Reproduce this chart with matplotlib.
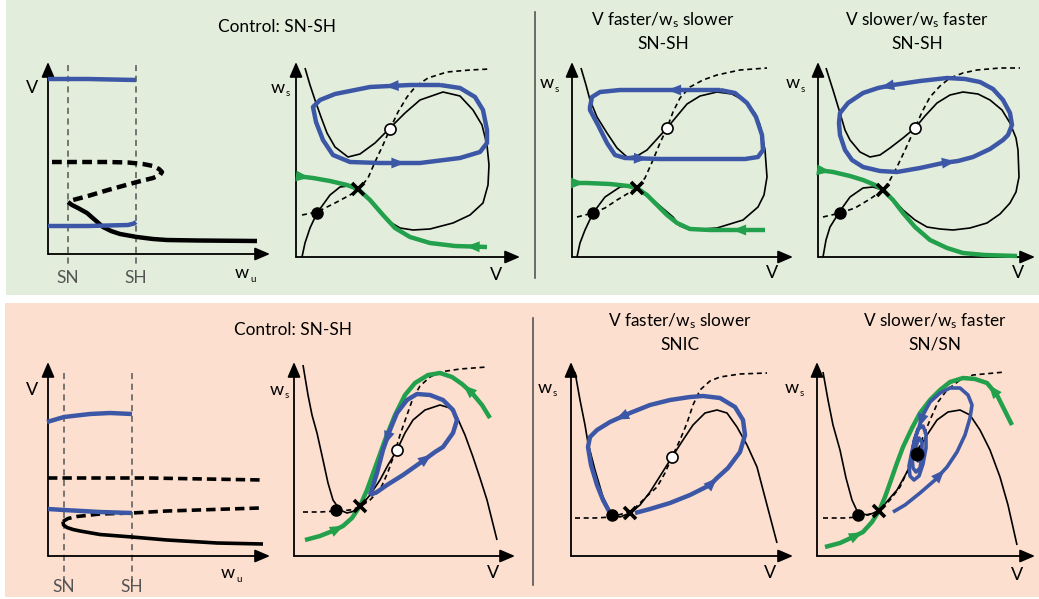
import matplotlib
matplotlib.use("Agg")
import matplotlib.pyplot as plt
from matplotlib.patches import Rectangle
from matplotlib.lines import Line2D

plt.rcParams['font.family'] = ['Lato', 'DejaVu Sans']
plt.rcParams['mathtext.fontset'] = 'custom'
plt.rcParams['mathtext.rm'] = 'Lato'

W, H = 1039, 599
BLUE = '#3D57A7'
GREEN = '#22A04B'
GREY = '#555555'
BG_TOP = '#E3EDDC'
BG_BOT = '#FCDFCE'
FS_TITLE = 12.4
FS_LAB = 13

# ---------------- data (schematic curves, local panel units) ----------------
# Top row, bifurcation diagram
top_bif_sn, top_bif_sh = 20, 88
top_bif_blue_hi_x = [0, 40, 88]
top_bif_blue_hi_y = [175, 175, 174]
top_bif_blue_lo_x = [0, 40, 80, 86, 88]
top_bif_blue_lo_y = [28, 28, 29, 30.5, 32]
top_bif_unst_x = [4, 30, 60, 80, 95, 105, 111, 114, 112, 105, 89, 60, 40, 25, 20]
top_bif_unst_y = [92, 92, 92, 91.5, 90, 88, 85, 82, 79, 76, 72, 64, 58, 54, 52]
top_bif_st_x = [20, 24, 30, 39, 47, 55, 63, 72, 89, 105, 119, 150, 209]
top_bif_st_y = [52, 49, 46, 41, 34, 27, 23, 20, 17, 15, 14, 13.5, 13]

# Bottom row, bifurcation diagram
bot_bif_sn, bot_bif_sh = 16, 84
bot_bif_blue_hi_x = [-1, 16, 42, 62, 84]
bot_bif_blue_hi_y = [134, 139, 142, 143, 142]
bot_bif_unst_hi_x = [0, 100, 215]
bot_bif_unst_hi_y = [78, 78, 76]
bot_bif_blue_lo_x = [0, 16, 52, 84]
bot_bif_blue_lo_y = [47, 46, 44, 43]
bot_bif_unst_lo_x = [15, 20, 29, 52, 84, 119, 212]
bot_bif_unst_lo_y = [34.5, 37.5, 39.5, 42, 43, 45, 48]
bot_bif_st_x = [15, 15.5, 19, 25, 32, 52, 84, 119, 169, 215]
bot_bif_st_y = [34.5, 31, 28.5, 26.5, 25, 21.5, 19, 16, 13, 12]

# Top control phase plane
p2_vnull_x = [9, 14, 19, 25, 31, 39, 52, 64, 79, 94, 109, 124, 147, 164, 177, 186, 191, 193, 192, 187, 174, 157, 134, 117, 104, 94, 77, 62, 52, 44, 34, 21, 14, 9, 6]
p2_vnull_y = [189, 172, 157, 140, 124, 110, 100, 103, 114, 129, 144, 157, 165, 161, 147, 132, 112, 92, 72, 54, 42, 34, 28, 27, 29, 35, 54, 67, 71, 70, 62, 44, 29, 14, 0]
p2_wnull_x = [6, 21, 39, 54, 62, 72, 79, 87, 94, 102, 111, 120, 132, 151, 174, 194]
p2_wnull_y = [42, 45, 54, 62, 67, 79, 95, 112, 128, 145, 160, 171, 179, 185, 187, 188]
p2_blue_x = [144, 114, 74, 39, 24, 17, 20, 27, 37, 54, 84, 124, 164, 184, 191, 191, 187, 179, 164, 144]
p2_blue_y = [172, 172, 170, 163, 157, 150, 135, 117, 102, 95, 94, 94, 99, 105, 114, 127, 147, 160, 169, 172]
p2_green_x = [0, 17, 34, 51, 62, 74, 87, 99, 114, 134, 159, 191]
p2_green_y = [81, 79, 76, 72, 68, 57, 42, 29, 20, 14, 11, 10]
p2_pts = {'stable': (21, 44), 'saddle': (62, 68), 'unstable': (94, 128)}

# Top: V faster / ws slower
p3_vnull_x = [9, 14, 18, 25, 35, 45, 55, 65, 75, 95, 115, 128, 145, 160, 171, 183, 188, 193, 195, 192, 186, 171, 145, 118, 108, 101, 81, 65, 56, 48, 33, 21, 13, 8, 5]
p3_vnull_y = [189, 172, 157, 140, 124, 109, 100, 101, 107, 129, 153, 161, 165, 163, 157, 144, 132, 107, 80, 62, 50, 37, 29, 27, 31, 40, 57, 69, 71, 70, 60, 44, 27, 14, 0]
p3_wnull_x = [5, 21, 33, 45, 65, 73, 81, 88, 95, 101, 108, 118, 131, 145, 168, 195]
p3_wnull_y = [40, 44, 49, 57, 69, 79, 97, 114, 129, 145, 159, 170, 177, 182, 187, 189]
p3_blue_x = [148, 118, 83, 48, 28, 20, 18, 18, 26, 35, 43, 53, 88, 128, 173, 186, 191, 190, 184, 175, 163, 148]
p3_blue_y = [167, 167, 167, 167, 165, 160, 150, 147, 132, 114, 102, 99, 98, 98, 98, 100, 107, 122, 140, 154, 164, 167]
p3_green_x = [0, 15, 38, 56, 65, 75, 85, 95, 105, 118, 138, 193]
p3_green_y = [74, 74, 73, 71, 69, 62, 52, 42, 34, 28, 27, 27]
p3_pts = {'stable': (21, 44), 'saddle': (65, 69), 'unstable': (95, 129)}

# Top: V slower / ws faster
p4_vnull_x = [8, 15, 22, 27, 32, 42, 52, 62, 72, 85, 97, 107, 119, 132, 145, 160, 172, 184, 192, 198, 200, 201, 198, 192, 182, 169, 152, 135, 122, 109, 97, 85, 75, 65, 55, 45, 32, 22, 12, 8, 5]
p4_vnull_y = [189, 167, 144, 127, 117, 105, 100, 102, 109, 119, 129, 141, 154, 162, 165, 163, 157, 147, 134, 119, 107, 80, 65, 54, 43, 34, 29, 27, 28, 30, 37, 47, 58, 67, 70, 69, 60, 46, 30, 17, 0]
p4_wnull_x = [5, 22, 37, 52, 65, 72, 79, 88, 97, 104, 112, 122, 132, 145, 159, 182, 202]
p4_wnull_y = [40, 44, 49, 58, 67, 77, 90, 109, 129, 145, 160, 171, 179, 184, 187, 189, 189]
p4_blue_x = [102, 75, 60, 45, 30, 22, 21, 22, 27, 34, 45, 62, 79, 102, 125, 140, 155, 172, 185, 190, 194, 192, 185, 175, 162, 147, 129, 102]
p4_blue_y = [176, 172, 169, 164, 154, 144, 134, 122, 107, 97, 90, 86, 85, 89, 94, 96, 100, 108, 117, 122, 132, 144, 157, 168, 175, 178, 179, 176]
p4_green_x = [0, 15, 32, 45, 57, 65, 75, 85, 97, 112, 129, 145, 167, 199]
p4_green_y = [87, 85, 81, 77, 72, 67, 57, 44, 30, 17, 9, 4, 2, 1]
p4_pts = {'stable': (22, 44), 'saddle': (65, 67), 'unstable': (97, 129)}

# Bottom control phase plane
p6_vnull_x = [9, 14, 18, 23, 29, 34, 39, 46, 53, 61, 66, 76, 86, 94, 103, 111, 119, 131, 146, 156, 163, 171, 179, 186, 193, 198, 203]
p6_vnull_y = [191, 161, 141, 123, 96, 73, 56, 46, 43, 45, 49, 61, 76, 91, 106, 123, 136, 146, 151, 148, 139, 121, 99, 78, 56, 36, 16]
p6_wnull_x = [9, 26, 43, 56, 66, 76, 86, 94, 101, 106, 113, 119, 126, 136, 146, 166, 193]
p6_wnull_y = [44, 44, 45, 46, 49, 56, 66, 84, 104, 121, 141, 158, 170, 179, 184, 187, 189]
p6_green_x = [11, 26, 41, 49, 58, 66, 73, 81, 91, 101, 111, 121, 134, 146, 158, 168, 178, 188, 196]
p6_green_y = [16, 20, 26, 30, 38, 50, 66, 88, 116, 141, 161, 173, 181, 183, 179, 172, 163, 151, 138]
p6_blue_x = [76, 83, 93, 109, 126, 141, 149, 159, 163, 159, 149, 136, 123, 113, 103, 96, 89, 83, 77, 76]
p6_blue_y = [61, 64, 71, 81, 93, 104, 109, 123, 136, 146, 156, 161, 162, 156, 143, 126, 106, 83, 64, 61]
p6_pts = {'stable': (42, 46), 'saddle': (66, 50), 'unstable': (103, 106)}

# Bottom: V faster / ws slower (SNIC)
p7_vnull_x = [4, 9, 14, 17, 24, 32, 41, 49, 59, 69, 79, 91, 101, 112, 122, 134, 146, 156, 166, 176, 186, 196, 206]
p7_vnull_y = [184, 156, 131, 113, 86, 59, 41, 39, 43, 51, 64, 83, 99, 116, 131, 143, 146, 143, 129, 111, 89, 51, 13]
p7_wnull_x = [4, 24, 41, 54, 62, 74, 86, 94, 101, 109, 116, 122, 129, 139, 149, 169, 196]
p7_wnull_y = [38, 38, 39, 43, 46, 58, 69, 83, 99, 116, 133, 151, 166, 175, 179, 182, 183]
p7_blue_x = [64, 79, 99, 119, 139, 146, 157, 169, 174, 172, 164, 149, 132, 119, 99, 79, 59, 39, 26, 19, 17, 20, 26, 32, 39]
p7_blue_y = [43, 47, 53, 61, 71, 78, 88, 104, 121, 136, 149, 158, 160, 159, 156, 151, 143, 134, 126, 119, 109, 91, 71, 56, 43]
p7_pts = {'stable': (41, 41), 'saddle': (59, 43), 'unstable': (101, 99)}

# Bottom: V slower / ws faster (SN/SN)
p8_vnull_x = [6, 11, 16, 23, 29, 35, 41, 51, 62, 73, 80, 90, 100, 110, 120, 131, 143, 153, 163, 173, 183, 191, 200]
p8_vnull_y = [184, 156, 131, 106, 78, 56, 43, 41, 45, 58, 66, 84, 103, 121, 136, 144, 146, 141, 126, 106, 79, 51, 11]
p8_wnull_x = [6, 28, 41, 53, 62, 73, 83, 91, 100, 106, 113, 121, 130, 143, 156, 188]
p8_wnull_y = [38, 38, 39, 42, 45, 56, 69, 86, 103, 119, 136, 154, 166, 176, 181, 184]
p8_green_x = [8, 23, 36, 46, 55, 62, 68, 73, 80, 86, 95, 103, 113, 123, 133, 146, 158, 170, 180, 186, 195]
p8_green_y = [9, 13, 19, 24, 34, 45, 59, 73, 93, 109, 128, 143, 156, 166, 174, 178, 177, 173, 161, 149, 131]
p8_blue_x = [76, 88, 103, 118, 130, 140, 148, 153, 155, 151, 143, 133, 123, 113, 106, 101, 99, 95, 92, 93, 97, 102, 106, 109, 109, 106, 101, 97, 95, 96, 99, 103, 105, 105, 102, 99, 99, 101, 102]
p8_blue_y = [44, 51, 63, 76, 89, 104, 121, 138, 151, 161, 168, 168, 163, 154, 141, 126, 120, 105, 90, 80, 76, 80, 92, 108, 122, 130, 127, 115, 100, 88, 84, 88, 100, 114, 118, 110, 98, 95, 102]
p8_pts = {'stable_left': (41, 41), 'saddle': (62, 45), 'stable_focus': (100, 102)}

# ---------------- figure ----------------
fig = plt.figure(figsize=(W / 100, H / 100), dpi=100)
fig.patch.set_facecolor('white')
fig.patches.append(Rectangle((6 / W, (H - 295) / H), 1 - 6 / W, 295 / H,
                             transform=fig.transFigure, facecolor=BG_TOP, edgecolor='none', zorder=-10))
fig.patches.append(Rectangle((5 / W, (H - 597) / H), 1 - 5 / W, (597 - 303) / H,
                             transform=fig.transFigure, facecolor=BG_BOT, edgecolor='none', zorder=-10))
fig.lines.append(Line2D([535 / W, 535 / W], [(H - 12) / H, (H - 278) / H], transform=fig.transFigure,
                        color=GREY, lw=1.2, zorder=-5))
fig.lines.append(Line2D([533 / W, 533 / W], [(H - 318) / H, (H - 585) / H], transform=fig.transFigure,
                        color=GREY, lw=1.2, zorder=-5))


def panel(ox, oy, w, h):
    ax = fig.add_axes([ox / W, (H - oy) / H, w / W, h / H])
    ax.set_xlim(0, w)
    ax.set_ylim(0, h)
    ax.axis('off')
    ax.patch.set_alpha(0)
    style = '-|>,head_length=0.7,head_width=0.3'
    ax.annotate('', xy=(0, h), xytext=(0, 0),
                arrowprops=dict(arrowstyle=style, lw=1.3, color='black', mutation_scale=13,
                                shrinkA=0, shrinkB=0), annotation_clip=False)
    ax.annotate('', xy=(w, 0), xytext=(0, 0),
                arrowprops=dict(arrowstyle=style, lw=1.3, color='black', mutation_scale=13,
                                shrinkA=0, shrinkB=0), annotation_clip=False)
    return ax


def line(ax, x, y, **kw):
    kw.setdefault('clip_on', False)
    kw.setdefault('solid_capstyle', 'butt')
    kw.setdefault('solid_joinstyle', 'round')
    ax.plot(x, y, **kw)


def arrow_on(ax, x, y, i, color, reverse=False):
    a, b = (i + 1, i) if reverse else (i, i + 1)
    mx = (x[a] + x[b]) / 2
    my = (y[a] + y[b]) / 2
    dx, dy = x[b] - x[a], y[b] - y[a]
    n = (dx * dx + dy * dy) ** 0.5
    ux, uy = dx / n, dy / n
    ax.annotate('', xy=(mx + ux * 5, my + uy * 5), xytext=(mx - ux * 5, my - uy * 5),
                arrowprops=dict(arrowstyle='-|>,head_length=0.7,head_width=0.28', lw=0,
                                color=color, mutation_scale=14,
                                shrinkA=0, shrinkB=0), annotation_clip=False, zorder=6)


def nullclines(ax, vx, vy, wx, wy):
    line(ax, vx, vy, color='black', lw=1.2, zorder=3)
    line(ax, wx, wy, color='black', lw=1.2, ls=(0, (3, 2.2)), zorder=3)


def stable(ax, p, ms=8):
    ax.plot(*p, 'o', color='black', ms=ms, zorder=8, clip_on=False)


def unstable(ax, p):
    ax.plot(*p, 'o', mfc='white', mec='black', mew=1.2, ms=8, zorder=8, clip_on=False)


def saddle(ax, p):
    ax.plot(*p, 'x', color='black', ms=9, mew=2.6, zorder=8, clip_on=False)


def wlabel(ax, pos, sub):
    x, y = pos
    ax.text(x + 1, y, 'w', fontsize=FS_LAB, ha='right', va='center')
    ax.text(x + 2, y - 6, sub, fontsize=7, ha='left', va='center')


def labels(ax, wl, vl):
    wlabel(ax, wl, 's')
    ax.text(*vl, 'V', fontsize=FS_LAB, ha='center', va='center')


# ---------- titles ----------
fig.text(277 / W, (H - 27) / H, 'Control: SN-SH', fontsize=FS_TITLE, ha='center', va='center')
fig.text(663 / W, (H - 20) / H, r'V faster/$\mathregular{w_s}$ slower', fontsize=FS_TITLE, ha='center', va='center')
fig.text(663 / W, (H - 44) / H, 'SN-SH', fontsize=FS_TITLE, ha='center', va='center')
fig.text(917 / W, (H - 20) / H, r'V slower/$\mathregular{w_s}$ faster', fontsize=FS_TITLE, ha='center', va='center')
fig.text(917 / W, (H - 44) / H, 'SN-SH', fontsize=FS_TITLE, ha='center', va='center')
fig.text(293 / W, (H - 330) / H, 'Control: SN-SH', fontsize=FS_TITLE, ha='center', va='center')
fig.text(680 / W, (H - 321) / H, r'V faster/$\mathregular{w_s}$ slower', fontsize=FS_TITLE, ha='center', va='center')
fig.text(680 / W, (H - 345) / H, 'SNIC', fontsize=FS_TITLE, ha='center', va='center')
fig.text(935 / W, (H - 321) / H, r'V slower/$\mathregular{w_s}$ faster', fontsize=FS_TITLE, ha='center', va='center')
fig.text(935 / W, (H - 345) / H, 'SN/SN', fontsize=FS_TITLE, ha='center', va='center')

# ---------- top bifurcation ----------
ax = panel(48, 254, 222, 192)
for xv in (top_bif_sn, top_bif_sh):
    line(ax, [xv, xv], [189, -14], color=GREY, lw=1.1, ls=(0, (4, 3)), zorder=1)
line(ax, top_bif_blue_hi_x, top_bif_blue_hi_y, color=BLUE, lw=3.2, zorder=4)
line(ax, top_bif_blue_lo_x, top_bif_blue_lo_y, color=BLUE, lw=3.2, zorder=4)
line(ax, top_bif_unst_x, top_bif_unst_y, color='black', lw=3.2, ls=(0, (2.2, 1.2)), zorder=3)
line(ax, top_bif_st_x, top_bif_st_y, color='black', lw=3.2, zorder=3)
ax.text(-16, 166, 'V', fontsize=FS_LAB, ha='center', va='center')
wlabel(ax, (200, -19), 'u')
ax.text(top_bif_sn, -24, 'SN', fontsize=FS_TITLE, color=GREY, ha='center', va='center')
ax.text(top_bif_sh, -24, 'SH', fontsize=FS_TITLE, color=GREY, ha='center', va='center')

# ---------- bottom bifurcation ----------
ax = panel(48, 556, 222, 194)
for xv in (bot_bif_sn, bot_bif_sh):
    line(ax, [xv, xv], [183, -26], color=GREY, lw=1.1, ls=(0, (4, 3)), zorder=1)
line(ax, bot_bif_blue_hi_x, bot_bif_blue_hi_y, color=BLUE, lw=3.2, zorder=4)
line(ax, bot_bif_blue_lo_x, bot_bif_blue_lo_y, color=BLUE, lw=3.2, zorder=4)
line(ax, bot_bif_unst_hi_x, bot_bif_unst_hi_y, color='black', lw=2.6, ls=(0, (2.6, 1.4)), zorder=3)
line(ax, bot_bif_unst_lo_x, bot_bif_unst_lo_y, color='black', lw=2.6, ls=(0, (2.6, 1.4)), zorder=3)
line(ax, bot_bif_st_x, bot_bif_st_y, color='black', lw=2.6, zorder=3)
ax.text(-16, 166, 'V', fontsize=FS_LAB, ha='center', va='center')
wlabel(ax, (186, -17), 'u')
ax.text(bot_bif_sn, -31, 'SN', fontsize=FS_TITLE, color=GREY, ha='center', va='center')
ax.text(bot_bif_sh, -31, 'SH', fontsize=FS_TITLE, color=GREY, ha='center', va='center')

# ---------- top control phase plane ----------
ax = panel(296, 257, 224, 195)
nullclines(ax, p2_vnull_x, p2_vnull_y, p2_wnull_x, p2_wnull_y)
line(ax, p2_blue_x, p2_blue_y, color=BLUE, lw=3.2, zorder=5)
arrow_on(ax, p2_blue_x, p2_blue_y, 1, BLUE)
arrow_on(ax, p2_blue_x, p2_blue_y, 10, BLUE)
line(ax, p2_green_x, p2_green_y, color=GREEN, lw=3.2, zorder=4)
arrow_on(ax, p2_green_x, p2_green_y, 0, GREEN)
arrow_on(ax, p2_green_x, p2_green_y, 10, GREEN, reverse=True)
stable(ax, p2_pts['stable']); saddle(ax, p2_pts['saddle']); unstable(ax, p2_pts['unstable'])
labels(ax, (-12, 169), (200, -18))

# ---------- top V faster ----------
ax = panel(572, 257, 221, 195)
nullclines(ax, p3_vnull_x, p3_vnull_y, p3_wnull_x, p3_wnull_y)
line(ax, p3_blue_x, p3_blue_y, color=BLUE, lw=3.2, zorder=5)
arrow_on(ax, p3_blue_x, p3_blue_y, 1, BLUE)
arrow_on(ax, p3_blue_x, p3_blue_y, 11, BLUE)
line(ax, p3_green_x, p3_green_y, color=GREEN, lw=3.2, zorder=4)
arrow_on(ax, p3_green_x, p3_green_y, 0, GREEN)
arrow_on(ax, p3_green_x, p3_green_y, 10, GREEN, reverse=True)
stable(ax, p3_pts['stable']); saddle(ax, p3_pts['saddle']); unstable(ax, p3_pts['unstable'])
labels(ax, (-19, 174), (200, -16))

# ---------- top V slower ----------
ax = panel(818, 257, 217, 195)
nullclines(ax, p4_vnull_x, p4_vnull_y, p4_wnull_x, p4_wnull_y)
line(ax, p4_blue_x, p4_blue_y, color=BLUE, lw=3.2, zorder=5)
arrow_on(ax, p4_blue_x, p4_blue_y, 1, BLUE)
arrow_on(ax, p4_blue_x, p4_blue_y, 14, BLUE)
line(ax, p4_green_x, p4_green_y, color=GREEN, lw=3.2, zorder=4)
arrow_on(ax, p4_green_x, p4_green_y, 0, GREEN)
stable(ax, p4_pts['stable']); saddle(ax, p4_pts['saddle']); unstable(ax, p4_pts['unstable'])
labels(ax, (-19, 174), (200, -16))

# ---------- bottom control phase plane ----------
ax = panel(294, 556, 221, 194)
nullclines(ax, p6_vnull_x, p6_vnull_y, p6_wnull_x, p6_wnull_y)
line(ax, p6_green_x, p6_green_y, color=GREEN, lw=3.2, zorder=4)
arrow_on(ax, p6_green_x, p6_green_y, 2, GREEN)
arrow_on(ax, p6_green_x, p6_green_y, 15, GREEN, reverse=True)
line(ax, p6_blue_x, p6_blue_y, color=BLUE, lw=3.2, zorder=5)
arrow_on(ax, p6_blue_x, p6_blue_y, 4, BLUE)
arrow_on(ax, p6_blue_x, p6_blue_y, 15, BLUE)
stable(ax, p6_pts['stable']); saddle(ax, p6_pts['saddle']); unstable(ax, p6_pts['unstable'])
labels(ax, (-11, 166), (199, -17))

# ---------- bottom SNIC ----------
ax = panel(571, 556, 222, 194)
nullclines(ax, p7_vnull_x, p7_vnull_y, p7_wnull_x, p7_wnull_y)
line(ax, p7_blue_x, p7_blue_y, color=BLUE, lw=3.2, zorder=5)
arrow_on(ax, p7_blue_x, p7_blue_y, 4, BLUE)
arrow_on(ax, p7_blue_x, p7_blue_y, 16, BLUE)
stable(ax, p7_pts['stable']); saddle(ax, p7_pts['saddle']); unstable(ax, p7_pts['unstable'])
labels(ax, (-20, 168), (199, -17))

# ---------- bottom SN/SN ----------
ax = panel(817, 556, 218, 194)
nullclines(ax, p8_vnull_x, p8_vnull_y, p8_wnull_x, p8_wnull_y)
line(ax, p8_green_x, p8_green_y, color=GREEN, lw=3.2, zorder=4)
arrow_on(ax, p8_green_x, p8_green_y, 2, GREEN)
arrow_on(ax, p8_green_x, p8_green_y, 17, GREEN, reverse=True)
line(ax, p8_blue_x, p8_blue_y, color=BLUE, lw=2.6, zorder=5)
arrow_on(ax, p8_blue_x, p8_blue_y, 3, BLUE)
arrow_on(ax, p8_blue_x, p8_blue_y, 14, BLUE)
stable(ax, p8_pts['stable_left']); saddle(ax, p8_pts['saddle'])
stable(ax, p8_pts['stable_focus'], ms=9)
labels(ax, (-19, 168), (200, -19))

fig.savefig('out.png', dpi=100, facecolor='white')
